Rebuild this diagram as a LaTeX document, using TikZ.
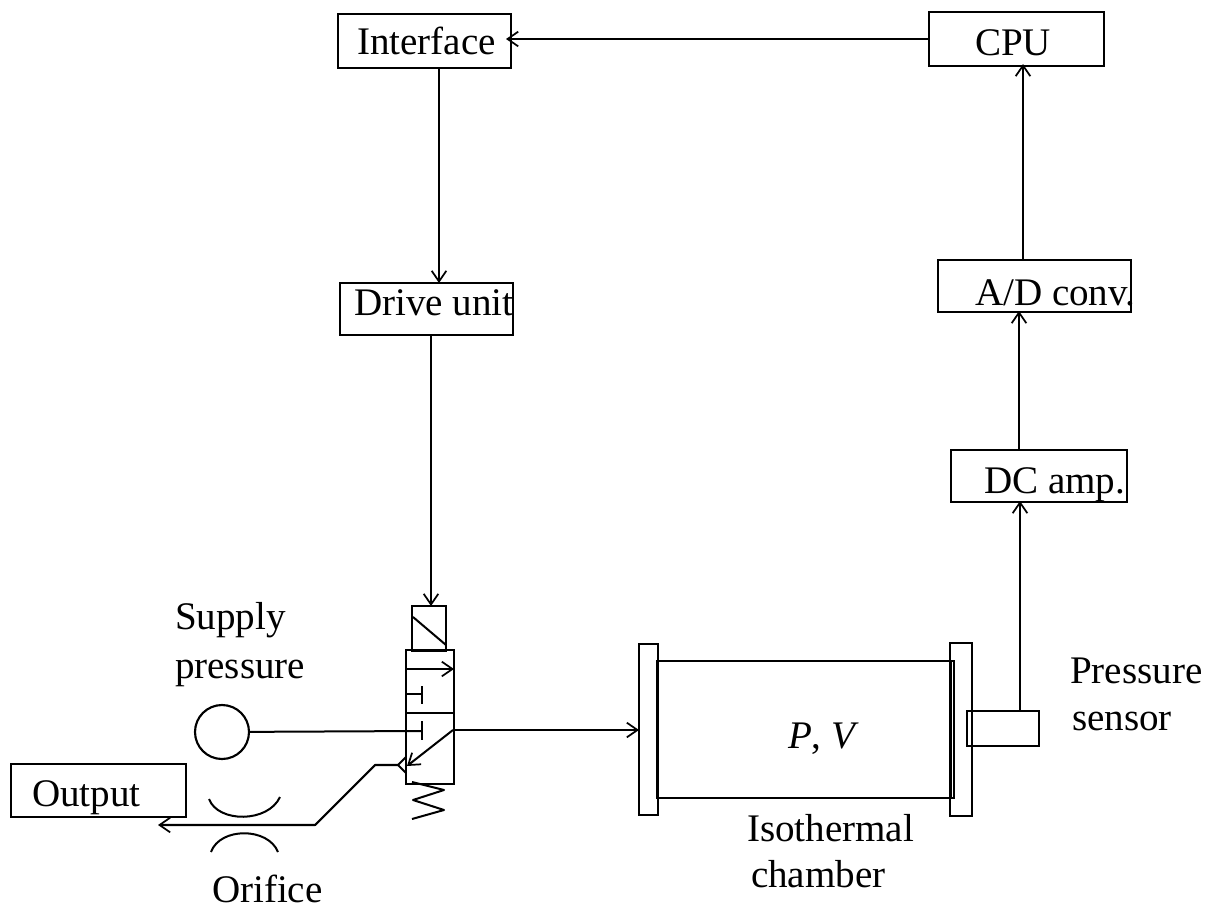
\documentclass[tikz,border=0pt]{standalone}
\usepackage{fontspec}
\setmainfont{Liberation Serif}
\usetikzlibrary{arrows.meta}
\tikzset{
  box/.style={draw,rectangle,line width=1.6pt,inner sep=0pt,outer sep=0pt},
  lbl/.style={anchor=base west,inner sep=0pt,outer sep=0pt,font=\fontsize{29.3}{32}\selectfont},
  barb/.tip={Straight Barb[length=8pt,width=11pt,line width=1.3pt]},
  conn/.style={line width=1.3pt,-barb},
  wire/.style={line width=1.5pt,line join=round}
}
\newcommand{\pxbox}[5]{\node[box,minimum width=#4*0.75pt,minimum height=#5*0.75pt] (#1) at (#2,#3) {};}
\begin{document}
\begin{tikzpicture}[x=0.75pt,y=-0.75pt]
\useasboundingbox (0,0) rectangle (1209,910);
% boxes (centre x, centre y, width, height)
\pxbox{iface}{424.5}{41}{173}{54}
\pxbox{cpu}{1016.5}{39}{175}{54}
\pxbox{drive}{426.5}{309}{173}{52}
\pxbox{ad}{1034.5}{286}{193}{52}
\pxbox{dc}{1039}{476}{176}{52}
\pxbox{out}{98.5}{790.5}{175}{53}
\pxbox{sol}{429}{628.5}{34}{45}
\pxbox{valve}{430}{717}{48}{134}
\pxbox{fl}{648.5}{729.5}{19}{171}
\pxbox{fr}{961}{729.5}{22}{173}
\pxbox{chamber}{805.5}{729.5}{297}{137}
\pxbox{sensor}{1003}{728.5}{72}{35}
\node[box,circle,minimum size=54*0.75pt] (supply) at (222,732) {};
% labels
\node[lbl] (t1) at (357,54) {Interface};
\node[lbl] (t2) at (975,55) {CPU};
\node[lbl] (t3) at (354,315) {Drive unit};
\node[lbl] (t4) at (975,305) {A/D conv.};
\node[lbl] (t5) at (984,493) {DC amp.};
\node[lbl] (t6) at (175,629) {Supply};
\node[lbl] (t7) at (175,678) {pressure};
\node[lbl] (t8) at (32,806) {Output};
\node[lbl] (t9) at (212,902) {Orifice};
\node[lbl] (t10) at (788,748) {\textit{P}, \textit{V}};
\node[lbl] (t11) at (747,841) {Isothermal};
\node[lbl] (t12) at (751,887) {chamber};
\node[lbl] (t13) at (1070,683) {Pressure};
\node[lbl] (t14) at (1072,730) {sensor};
% connector ends
\coordinate (a1) at (929,39);
\coordinate (a2) at (506,39);
\coordinate (b1) at (439,68);
\coordinate (b2) at (439,283);
\coordinate (c1) at (431,335);
\coordinate (c2) at (431,606);
\coordinate (d1) at (1023,260);
\coordinate (d2) at (1023,64);
\coordinate (e1) at (1019,450);
\coordinate (e2) at (1019,311);
\coordinate (f1) at (1020,711);
\coordinate (f2) at (1020,501);
\coordinate (g1) at (454,730);
\coordinate (g2) at (639,730);
\coordinate (h1) at (422,731);
\coordinate (k1) at (398,765);
\coordinate (k2) at (375,765);
\coordinate (k3) at (315,825);
\coordinate (k4) at (158,825);
\draw[conn] (a1) -- (a2);
\draw[conn] (b1) -- (b2);
\draw[conn] (c1) -- (c2);
\draw[conn] (d1) -- (d2);
\draw[conn] (e1) -- (e2);
\draw[conn] (f1) -- (f2);
\draw[conn] (g1) -- (g2);
\draw[wire] (supply) -- (h1);
\draw[conn,line width=1.6pt,line join=round] (k1) -- (k2) -- (k3) -- (k4);
% valve internals
\draw[wire] (413,617) -- (446,645);
\draw[wire] (406,713) -- (454,713);
\draw[wire,-barb] (406,669) -- (454,669);
\draw[wire] (406,694) -- (422,694) (422,686) -- (422,704);
\draw[wire] (422,721) -- (422,740);
\draw[wire,-barb] (453,730) -- (407,766);
\draw[wire] (406,757) -- (398,765) -- (406,773);
\draw[wire] (412,782) -- (444,790) -- (413,800) -- (444,810) -- (412,819);
% orifice
\draw[wire] (209,799) .. controls (218,823) and (268,823) .. (280,797);
\draw[wire] (211,852) .. controls (220,827) and (268,827) .. (278,852);
% chamber double wall
\draw[wire] (657,661) -- (657,798);
\draw[wire] (951,661) -- (951,798);
\end{tikzpicture}
\end{document}
